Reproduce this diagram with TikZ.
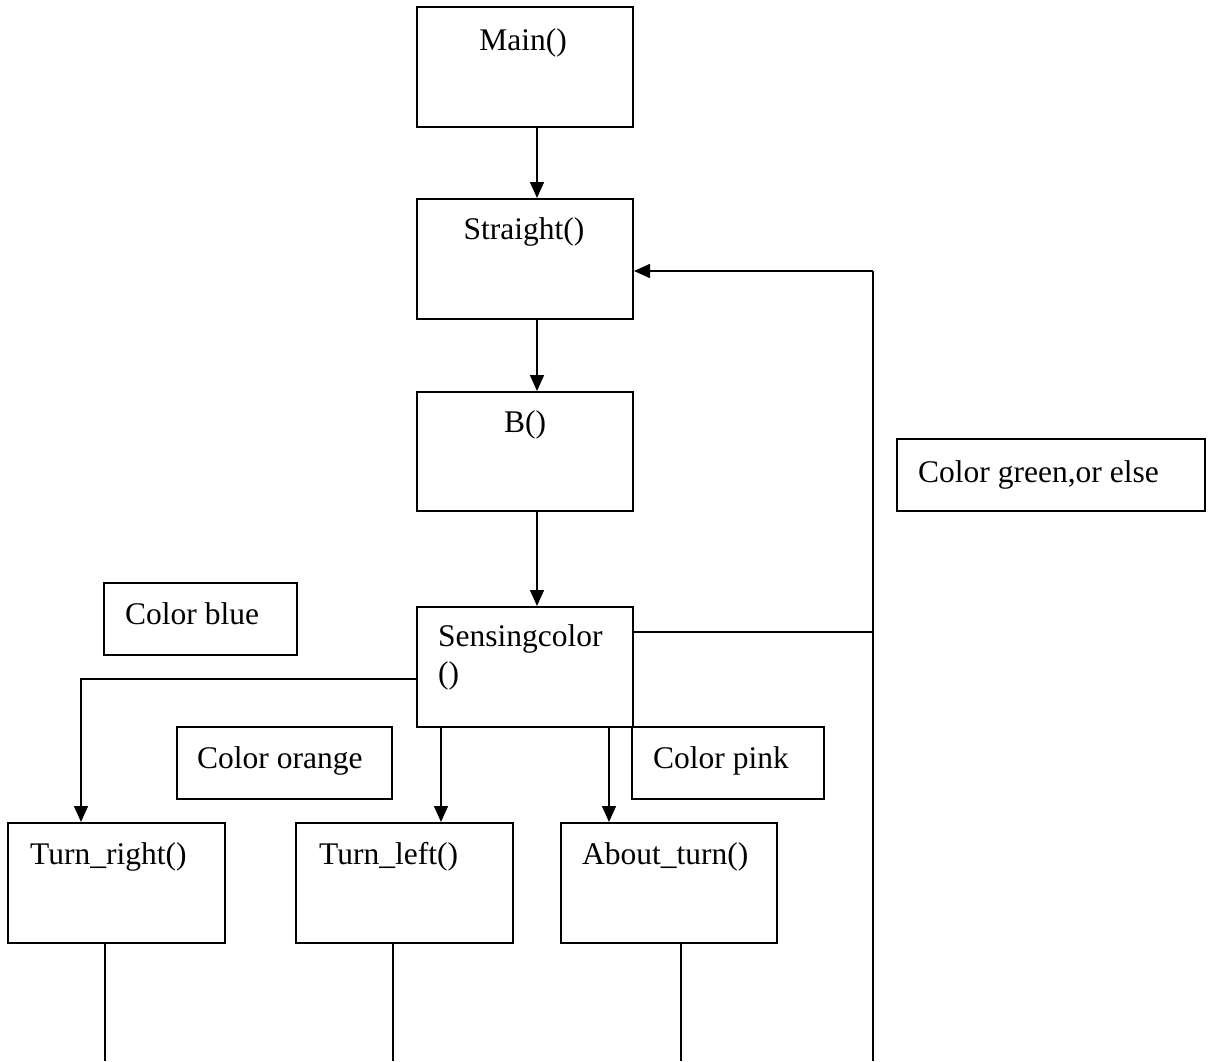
\documentclass[tikz,border=0pt]{standalone}
\usepackage{fontspec}
\setmainfont{Liberation Serif}
\usetikzlibrary{arrows.meta}
\begin{document}
\begin{tikzpicture}[x=1pt,y=-1pt,
  box/.style={draw, line width=2pt, rectangle, inner sep=0pt},
  lbl/.style={anchor=base west, inner sep=0pt, font=\fontsize{31.5}{36}\selectfont},
  lblc/.style={anchor=base, inner sep=0pt, font=\fontsize{31.5}{36}\selectfont},
  conn/.style={line width=1.6pt},
  arr/.style={conn, -{Triangle[length=16pt,width=14pt]}}]
\useasboundingbox (0,0) rectangle (1215,1061);
\fill[white] (0,0) rectangle (1215,1061);

% boxes
\node[box, minimum width=216pt, minimum height=120pt] (main) at (525,67) {};
\node[box, minimum width=216pt, minimum height=120pt] (straight) at (525,259) {};
\node[box, minimum width=216pt, minimum height=119pt] (b) at (525,451.5) {};
\node[box, minimum width=216pt, minimum height=120pt] (sensing) at (525,667) {};
\node[box, minimum width=193pt, minimum height=72pt] (blue) at (200.5,619) {};
\node[box, minimum width=308pt, minimum height=72pt] (green) at (1051,475) {};
\node[box, minimum width=215pt, minimum height=72pt] (orange) at (284.5,763) {};
\node[box, minimum width=192pt, minimum height=72pt] (pink) at (728,763) {};
\node[box, minimum width=217pt, minimum height=120pt] (turnright) at (116.5,883) {};
\node[box, minimum width=217pt, minimum height=120pt] (turnleft) at (404.5,883) {};
\node[box, minimum width=216pt, minimum height=120pt] (about) at (669,883) {};

% texts
\node[lblc] (tmain) at (523,50) {Main()};
\node[lblc] (tstraight) at (524,239) {Straight()};
\node[lblc] (tb) at (525,432) {B()};
\node[lbl] (tsens1) at (438,646) {Sensingcolor};
\node[lbl] (tsens2) at (438,683) {()};
\node[lbl] (tblue) at (125,624) {Color blue};
\node[lbl] (tgreen) at (918,482) {Color green,or else};
\node[lbl] (torange) at (197,768) {Color orange};
\node[lbl] (tpink) at (653,768) {Color pink};
\node[lbl] (tright) at (30,864) {Turn\_right()};
\node[lbl] (tleft) at (319,864) {Turn\_left()};
\node[lbl] (tabout) at (582,864) {About\_turn()};

% helper coordinates
\coordinate (spine) at (537,0);
\coordinate (fb) at (873,632);
\coordinate (railtop) at (873,271);
\coordinate (railbot) at (873,1061);
\coordinate (lb) at (81,679);
\coordinate (ml) at (441,0);
\coordinate (mr) at (609,0);
\coordinate (e1) at (105,1061);
\coordinate (e2) at (393,1061);
\coordinate (e3) at (681,1061);

% connectors
\draw[arr] (main.south -| spine) -- (straight.north -| spine);
\draw[arr] (straight.south -| spine) -- (b.north -| spine);
\draw[arr] (b.south -| spine) -- (sensing.north -| spine);
\draw[conn] (sensing.east |- fb) -- (fb);
\draw[conn] (railbot) -- (railtop);
\draw[arr] (railtop) -- (straight.east |- railtop);
\draw[arr] (sensing.west |- lb) -- (lb) -- (turnright.north -| lb);
\draw[arr] (sensing.south -| ml) -- (turnleft.north -| ml);
\draw[arr] (sensing.south -| mr) -- (about.north -| mr);
\draw[conn] (turnright.south -| e1) -- (e1);
\draw[conn] (turnleft.south -| e2) -- (e2);
\draw[conn] (about.south -| e3) -- (e3);
\end{tikzpicture}
\end{document}
